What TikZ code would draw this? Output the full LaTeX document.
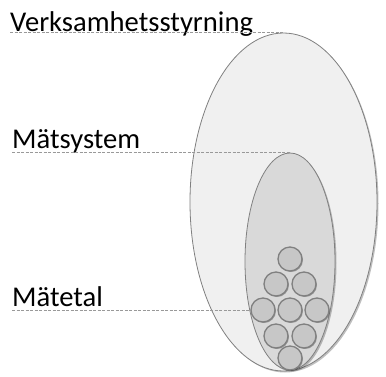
\documentclass[tikz,border=0pt]{standalone}
\usepackage{fontspec}
\setmainfont{Carlito}
\usetikzlibrary{shapes.geometric,shadows}
\tikzset{
  ell/.style={draw=black!50, line width=0.8pt, ellipse, inner sep=0pt,
    drop shadow={shadow xshift=1.5pt, shadow yshift=-1.5pt, opacity=0.25, fill=black}},
  ball/.style={circle, draw=black!50, line width=1.3pt, fill=black!22, minimum size=24pt, inner sep=0pt,
    drop shadow={shadow xshift=1pt, shadow yshift=-1pt, opacity=0.3, fill=black}},
  lbl/.style={anchor=base west, font=\fontsize{28.6}{32}\selectfont, inner sep=0pt},
  dline/.style={draw=black!40, dashed, line width=0.8pt, dash pattern=on 3pt off 1.5pt}
}
\begin{document}
\begin{tikzpicture}[x=1pt,y=-1pt]
\useasboundingbox (0,0) rectangle (386,376);
\node[ell, fill=black!6, minimum width=187pt, minimum height=338pt] (big) at (283.5,202) {};
\node[ell, fill=black!15, minimum width=90pt, minimum height=217pt] (mid) at (290,261.5) {};
\node[ball] (c1) at (290,259) {};
\node[ball] (c21) at (276,284) {};
\node[ball] (c22) at (304,284) {};
\node[ball] (c31) at (263,310) {};
\node[ball] (c32) at (290,310) {};
\node[ball] (c33) at (317,310) {};
\node[ball] (c41) at (276,336) {};
\node[ball] (c42) at (304,336) {};
\node[ball] (c5) at (290,358) {};
\node[lbl] (v) at (10,31) {Verksamhetsstyrning};
\node[lbl] (m) at (12,148) {Mätsystem};
\node[lbl] (t) at (12,306) {Mätetal};
\draw[dline] (big.north -| v.west) -- (big.north);
\draw[dline] (mid.north -| m.west) -- (mid.north);
\draw[dline] (c31.west -| t.west) -- (c31.west);
\end{tikzpicture}
\end{document}
